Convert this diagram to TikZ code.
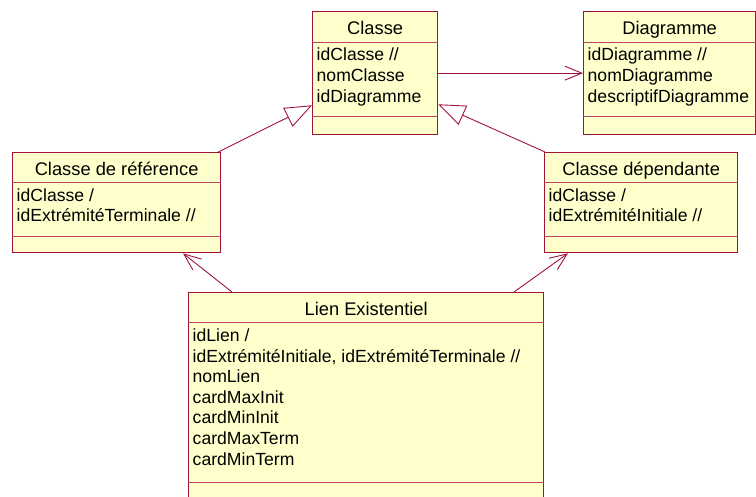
\documentclass[tikz,border=0pt]{standalone}
\usepackage{fontspec}
\setmainfont{Liberation Sans}
\usetikzlibrary{arrows.meta,calc}
\definecolor{umlborder}{RGB}{160,20,60}
\definecolor{umldiv}{RGB}{185,70,100}
\definecolor{umlfill}{RGB}{255,255,204}
\begin{document}
\begin{tikzpicture}[x=1pt,y=-1pt,
  umlbox/.style 2 args={draw=umlborder, line width=1.3pt, fill=umlfill, anchor=north west, inner sep=0pt, minimum width=#1, minimum height=#2},
  divider/.style={draw=umldiv, line width=0.9pt},
  titletxt/.style={anchor=base, inner sep=0pt, font=\fontsize{18.3}{20}\selectfont},
  attr/.style={anchor=base west, inner sep=0pt, font=\fontsize{17.6}{20}\selectfont},
  assoc/.style={draw=umlborder, line width=0.9pt, -{Straight Barb[length=17pt,width=14pt]}},
  gen/.style={draw=umlborder, line width=0.9pt, -{Triangle[open,length=27pt,width=21pt]}}
]
\useasboundingbox (0,0) rectangle (756,497);

% Classe
\node[umlbox={125pt}{123pt}] (cl) at (312,11) {};
\draw[divider] ($(cl.north west)+(0,31)$) -- ($(cl.north east)+(0,31)$);
\draw[divider] ($(cl.north west)+(0,105)$) -- ($(cl.north east)+(0,105)$);
\node[titletxt] (cl-t) at ($(cl.north)+(0,23.5)$) {Classe};
\foreach \t [count=\i from 0] in {idClasse //, nomClasse, idDiagramme}
  \node[attr] (cl-a\i) at ($(cl.north west)+(4.5,{49.5+20.8*\i})$) {\t};

% Diagramme
\node[umlbox={172pt}{123pt}] (dg) at (583,11) {};
\draw[divider] ($(dg.north west)+(0,31)$) -- ($(dg.north east)+(0,31)$);
\draw[divider] ($(dg.north west)+(0,105)$) -- ($(dg.north east)+(0,105)$);
\node[titletxt] (dg-t) at ($(dg.north)+(0,23.5)$) {Diagramme};
\foreach \t [count=\i from 0] in {idDiagramme //, nomDiagramme, descriptifDiagramme}
  \node[attr] (dg-a\i) at ($(dg.north west)+(4.5,{49.5+20.8*\i})$) {\t};

% Classe de référence
\node[umlbox={208pt}{100pt}] (ref) at (12,152) {};
\draw[divider] ($(ref.north west)+(0,30)$) -- ($(ref.north east)+(0,30)$);
\draw[divider] ($(ref.north west)+(0,84)$) -- ($(ref.north east)+(0,84)$);
\node[titletxt] (ref-t) at ($(ref.north)+(0,24)$) {Classe de référence};
\foreach \t [count=\i from 0] in {idClasse /, idExtrémitéTerminale //}
  \node[attr] (ref-a\i) at ($(ref.north west)+(4.5,{49.5+20.5*\i})$) {\t};

% Classe dépendante
\node[umlbox={193pt}{100pt}] (dp) at (544,152) {};
\draw[divider] ($(dp.north west)+(0,30)$) -- ($(dp.north east)+(0,30)$);
\draw[divider] ($(dp.north west)+(0,84)$) -- ($(dp.north east)+(0,84)$);
\node[titletxt] (dp-t) at ($(dp.north)+(0,24)$) {Classe dépendante};
\foreach \t [count=\i from 0] in {idClasse /, idExtrémitéInitiale //}
  \node[attr] (dp-a\i) at ($(dp.north west)+(4.5,{49.5+20.5*\i})$) {\t};

% Lien Existentiel
\node[umlbox={355pt}{212pt}] (ln) at (188,292) {};
\draw[divider] ($(ln.north west)+(0,30)$) -- ($(ln.north east)+(0,30)$);
\draw[divider] ($(ln.north west)+(0,190)$) -- ($(ln.north east)+(0,190)$);
\node[titletxt] (ln-t) at ($(ln.north)+(0,24)$) {Lien Existentiel};
\foreach \t [count=\i from 0] in {idLien /, {idExtrémitéInitiale, idExtrémitéTerminale //}, nomLien, cardMaxInit, cardMinInit, cardMaxTerm, cardMinTerm}
  \node[attr] (ln-a\i) at ($(ln.north west)+(4.5,{50+20.5*\i})$) {\t};

% connectors
\draw[assoc] (cl.east) -- (dg.west);
\draw[gen] ($(ref.north east)+(-3,0)$) -- ($(cl.south west)+(0,-30)$);
\draw[gen] ($(dp.north west)+(1,0)$) -- ($(cl.south east)+(0,-31)$);
\draw[assoc] ($(ln.north west)+(44,0)$) -- ($(ref.south west)+(171,0)$);
\draw[assoc] ($(ln.north west)+(326,0)$) -- ($(dp.south west)+(24,0)$);
\end{tikzpicture}
\end{document}
